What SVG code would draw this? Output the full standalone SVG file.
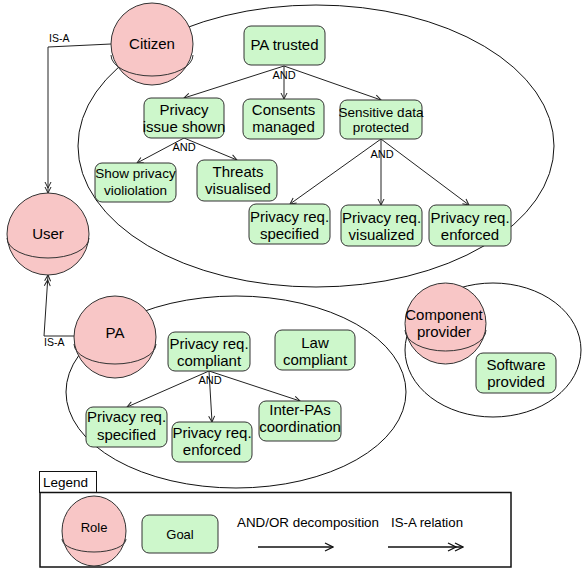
<svg xmlns="http://www.w3.org/2000/svg" width="582" height="569" viewBox="0 0 582 569">
  <style>
    text { font-family: "Liberation Sans", Arial, Helvetica, sans-serif; fill: #000; }
    .scope { fill: none; stroke: #111; stroke-width: 1; }
    .role { fill: #f8c6c6; stroke: #333; stroke-width: 1; }
    .rim { fill: none; stroke: #333; stroke-width: 1; }
    .goal { fill: #cdf7cb; stroke: #333; stroke-width: 1; }
    .lbl { font-size: 15px; text-anchor: middle; }
    .sm { font-size: 13.5px; text-anchor: middle; }
    .op { font-size: 11px; text-anchor: middle; }
    .isa { font-size: 10.5px; }
    .edge { fill: none; stroke: #222; stroke-width: 1; }
    .leg { font-size: 13px; }
  </style>
  <defs>
    <marker id="arr" markerUnits="userSpaceOnUse" markerWidth="8" markerHeight="8" viewBox="0 0 8 8" refX="7" refY="4" orient="auto">
      <path d="M1,1 L7,4 L1,7" fill="none" stroke="#222" stroke-width="1"/>
    </marker>
    <marker id="arr2" markerUnits="userSpaceOnUse" markerWidth="13" markerHeight="8" viewBox="0 0 13 8" refX="12" refY="4" orient="auto">
      <path d="M1,1 L7,4 L1,7 M6,1 L12,4 L6,7" fill="none" stroke="#222" stroke-width="1"/>
    </marker>
    <marker id="legArr" markerUnits="userSpaceOnUse" markerWidth="10" markerHeight="12" viewBox="0 0 10 12" refX="9" refY="6" orient="auto">
      <path d="M1,2 L9,6 L1,10" fill="none" stroke="#111" stroke-width="1.3"/>
    </marker>
    <marker id="legArr2" markerUnits="userSpaceOnUse" markerWidth="17" markerHeight="12" viewBox="0 0 17 12" refX="16" refY="6" orient="auto">
      <path d="M1,2 L9,6 L1,10 M8,2 L16,6 L8,10" fill="none" stroke="#111" stroke-width="1.3"/>
    </marker>
  </defs>

  <!-- role boundaries -->
  <g id="scopes">
    <ellipse class="scope" cx="316" cy="146" rx="238" ry="141"/>
    <ellipse class="scope" cx="236" cy="392" rx="170" ry="96"/>
    <ellipse class="scope" cx="493" cy="350" rx="88" ry="67"/>
  </g>

  <!-- connectors -->
  <g id="connectors">
    <!-- AND decompositions -->
    <path class="edge" d="M284,66 L184,98" marker-end="url(#arr)"/>
    <path class="edge" d="M284,66 L284,99" marker-end="url(#arr)"/>
    <path class="edge" d="M284,66 L381,100" marker-end="url(#arr)"/>
    <path class="edge" d="M184,138 L137,163" marker-end="url(#arr)"/>
    <path class="edge" d="M184,138 L237,160" marker-end="url(#arr)"/>
    <path class="edge" d="M381,139 L290,204" marker-end="url(#arr)"/>
    <path class="edge" d="M381,139 L381,205" marker-end="url(#arr)"/>
    <path class="edge" d="M381,139 L469,205" marker-end="url(#arr)"/>
    <path class="edge" d="M209,371 L127,407" marker-end="url(#arr)"/>
    <path class="edge" d="M209,371 L212,422" marker-end="url(#arr)"/>
    <path class="edge" d="M209,371 L300,401" marker-end="url(#arr)"/>
    <!-- IS-A relations -->
    <path class="edge" d="M111,44 L48,47 L48,193" marker-end="url(#arr2)"/>
    <path class="edge" d="M74,336 L44,336 L48,275" marker-end="url(#arr2)"/>
    <text class="op" x="284" y="79">AND</text>
    <text class="op" x="184" y="151">AND</text>
    <text class="op" x="382" y="158">AND</text>
    <text class="op" x="210" y="384">AND</text>
    <text class="isa" x="49" y="42">IS-A</text>
    <text class="isa" x="44" y="346">IS-A</text>
  </g>

  <!-- roles -->
  <g id="citizen">
    <circle class="role" cx="152" cy="44" r="41"/>
    <path class="rim" d="M111,55 A41,21 0 0 0 193,55"/>
    <text class="lbl" x="152" y="49">Citizen</text>
  </g>
  <g id="user">
    <circle class="role" cx="48" cy="234" r="41"/>
    <path class="rim" d="M7,238 A41,20 0 0 0 89,238"/>
    <text class="lbl" x="48" y="239">User</text>
  </g>
  <g id="pa">
    <circle class="role" cx="115" cy="337" r="41"/>
    <path class="rim" d="M74,344 A41,20 0 0 0 156,344"/>
    <text class="lbl" x="115" y="338">PA</text>
  </g>
  <g id="component-provider">
    <circle class="role" cx="445.5" cy="323.5" r="40.5"/>
    <path class="rim" d="M405,330 A40.5,21 0 0 0 486,330"/>
    <text class="lbl" x="444" y="320"><tspan x="444">Component</tspan><tspan x="444" y="337">provider</tspan></text>
  </g>

  <!-- goals: citizen -->
  <g id="pa-trusted">
    <rect class="goal" x="244" y="26" width="81" height="39" rx="7"/>
    <text class="lbl" x="284.5" y="50">PA trusted</text>
  </g>
  <g id="privacy-issue-shown">
    <rect class="goal" x="144" y="98" width="80" height="40" rx="7"/>
    <text class="lbl" x="184" y="115"><tspan x="184">Privacy</tspan><tspan x="184" y="132">issue shown</tspan></text>
  </g>
  <g id="consents-managed">
    <rect class="goal" x="243" y="99" width="81" height="40" rx="7"/>
    <text class="lbl" x="283.5" y="115"><tspan x="283.5">Consents</tspan><tspan x="283.5" y="132">managed</tspan></text>
  </g>
  <g id="sensitive-data-protected">
    <rect class="goal" x="340" y="100" width="82" height="39" rx="7"/>
    <text class="sm" x="381" y="116.5"><tspan x="381">Sensitive data</tspan><tspan x="381" y="132">protected</tspan></text>
  </g>
  <g id="show-privacy-violation">
    <rect class="goal" x="95" y="163" width="81" height="39" rx="7"/>
    <text class="sm" x="135.5" y="178"><tspan x="135.5">Show privacy</tspan><tspan x="135.5" y="195">violiolation</tspan></text>
  </g>
  <g id="threats-visualised">
    <rect class="goal" x="197" y="160" width="80" height="41" rx="7"/>
    <text class="lbl" x="238" y="177"><tspan x="238">Threats</tspan><tspan x="238" y="194">visualised</tspan></text>
  </g>
  <g id="citizen-req-specified">
    <rect class="goal" x="249" y="204" width="81" height="40" rx="7"/>
    <text class="lbl" x="289.5" y="222"><tspan x="289.5">Privacy req.</tspan><tspan x="289.5" y="239">specified</tspan></text>
  </g>
  <g id="citizen-req-visualized">
    <rect class="goal" x="341" y="205" width="81" height="41" rx="7"/>
    <text class="lbl" x="381.5" y="223"><tspan x="381.5">Privacy req.</tspan><tspan x="381.5" y="240">visualized</tspan></text>
  </g>
  <g id="citizen-req-enforced">
    <rect class="goal" x="429" y="205" width="82" height="41" rx="7"/>
    <text class="lbl" x="470" y="223"><tspan x="470">Privacy req.</tspan><tspan x="470" y="240">enforced</tspan></text>
  </g>

  <!-- goals: PA -->
  <g id="pa-req-compliant">
    <rect class="goal" x="168" y="332" width="82" height="39" rx="7"/>
    <text class="lbl" x="209" y="348.5"><tspan x="209">Privacy req.</tspan><tspan x="209" y="365.5">compliant</tspan></text>
  </g>
  <g id="law-compliant">
    <rect class="goal" x="275" y="330" width="80" height="40" rx="7"/>
    <text class="lbl" x="315" y="348"><tspan x="315">Law</tspan><tspan x="315" y="365">compliant</tspan></text>
  </g>
  <g id="pa-req-specified">
    <rect class="goal" x="86" y="407" width="81" height="40" rx="7"/>
    <text class="lbl" x="126.5" y="422"><tspan x="126.5">Privacy req.</tspan><tspan x="126.5" y="439.5">specified</tspan></text>
  </g>
  <g id="pa-req-enforced">
    <rect class="goal" x="172" y="422" width="80" height="40" rx="7"/>
    <text class="lbl" x="212" y="438"><tspan x="212">Privacy req.</tspan><tspan x="212" y="455">enforced</tspan></text>
  </g>
  <g id="inter-pas-coordination">
    <rect class="goal" x="259" y="401" width="82" height="40" rx="7"/>
    <text class="lbl" x="300" y="415"><tspan x="300">Inter-PAs</tspan><tspan x="300" y="432">coordination</tspan></text>
  </g>

  <!-- goals: component provider -->
  <g id="software-provided">
    <rect class="goal" x="476" y="353" width="80" height="40" rx="7"/>
    <text class="lbl" x="516" y="370"><tspan x="516">Software</tspan><tspan x="516" y="387">provided</tspan></text>
  </g>

  <!-- legend -->
  <g id="legend">
    <rect x="39.5" y="471.5" width="57" height="21" fill="#fff" stroke="#111" stroke-width="1"/>
    <text x="43" y="487" style="font-size:13.5px">Legend</text>
    <rect x="40" y="492.5" width="471" height="74.5" fill="none" stroke="#111" stroke-width="1.5"/>
    <ellipse class="role" cx="94" cy="531" rx="32" ry="35"/>
    <path class="rim" d="M62,539 A32,13 0 0 0 126,539"/>
    <text class="leg" x="94" y="532" text-anchor="middle">Role</text>
    <rect class="goal" x="142" y="515" width="76" height="38" rx="7"/>
    <text class="leg" x="180" y="539" text-anchor="middle">Goal</text>
    <text class="leg" x="237" y="527" textLength="142" lengthAdjust="spacingAndGlyphs">AND/OR decomposition</text>
    <text class="leg" x="391" y="527" textLength="72" lengthAdjust="spacingAndGlyphs">IS-A relation</text>
    <path d="M258,547 L333,547" fill="none" stroke="#111" stroke-width="1.3" marker-end="url(#legArr)"/>
    <path d="M388,547 L463,547" fill="none" stroke="#111" stroke-width="1.3" marker-end="url(#legArr2)"/>
  </g>
</svg>
